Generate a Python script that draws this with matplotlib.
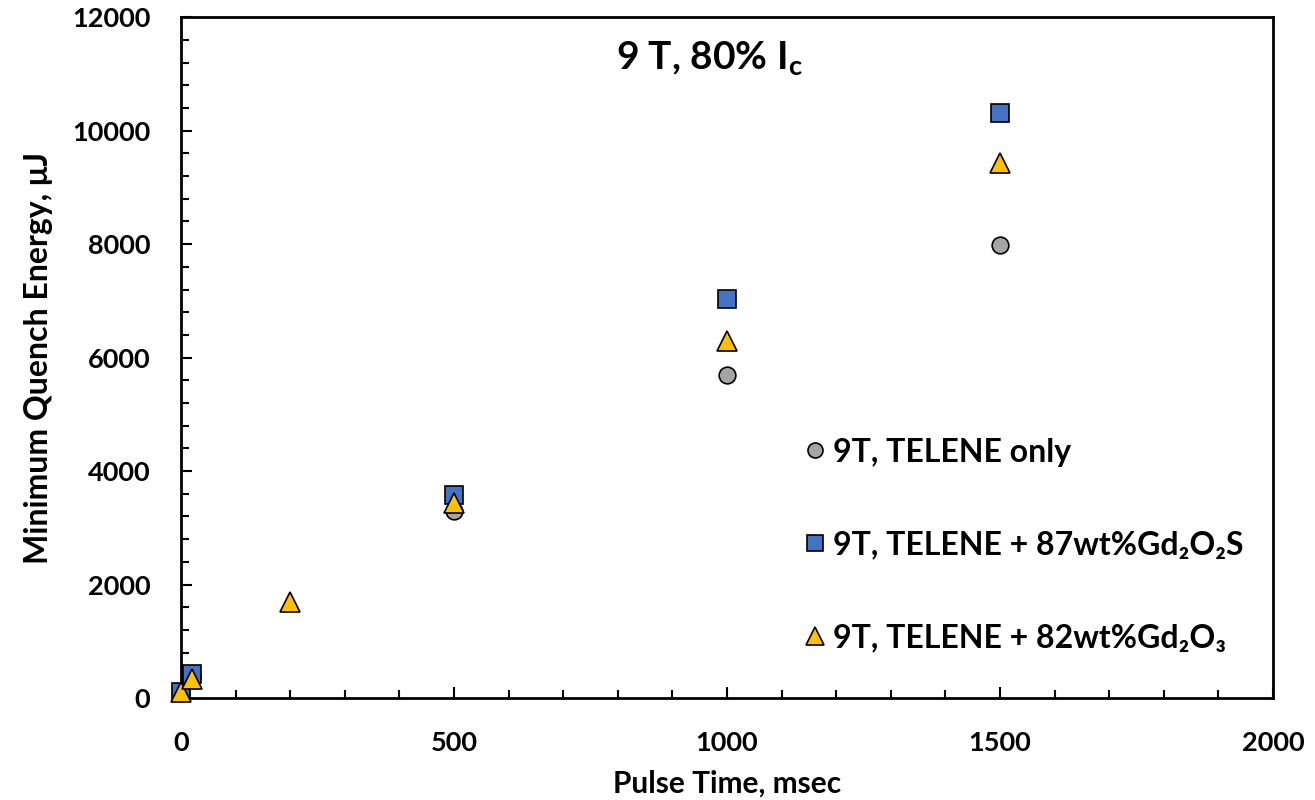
import matplotlib
matplotlib.use("Agg")
import matplotlib.pyplot as plt
from matplotlib.ticker import MultipleLocator

plt.rcParams['font.family'] = ['Lato', 'DejaVu Sans']
plt.rcParams['font.weight'] = 'bold'
plt.rcParams['mathtext.fontset'] = 'custom'
plt.rcParams['mathtext.rm'] = 'Lato:bold'
plt.rcParams['mathtext.it'] = 'Lato:bold'
plt.rcParams['mathtext.bf'] = 'Lato:bold'

# data (pulse time in msec, MQE in uJ)
t_telene = [0, 20, 500, 1000, 1500]
e_telene = [90, 380, 3300, 5700, 7980]

t_gos = [0, 20, 500, 1000, 1500]
e_gos = [100, 420, 3580, 7030, 10320]

t_gdo = [0, 20, 200, 500, 1000, 1500]
e_gdo = [100, 330, 1690, 3440, 6290, 9430]

labels = ["9T, TELENE only",
          "9T, TELENE + 87wt%Gd\u2082O\u2082S",
          "9T, TELENE + 82wt%Gd\u2082O\u2083"]

fig = plt.figure(figsize=(13.15, 8), dpi=100)
ax = fig.add_axes([0.1376, 0.1275, 0.8304, 0.851])

ax.plot(t_telene, e_telene, 'o', ms=12, mfc='#A5A5A5', mec='black', mew=1.2,
        label=labels[0], zorder=3, clip_on=False)
ax.plot(t_gos, e_gos, 's', ms=13, mfc='#4472C4', mec='black', mew=1.2,
        label=labels[1], zorder=4, clip_on=False)
ax.plot(t_gdo, e_gdo, '^', ms=14, mfc='#FFC000', mec='black', mew=1.2,
        label=labels[2], zorder=5, clip_on=False)

ax.set_xlim(0, 2000)
ax.set_ylim(0, 12000)
ax.xaxis.set_major_locator(MultipleLocator(500))
ax.xaxis.set_minor_locator(MultipleLocator(100))
ax.yaxis.set_major_locator(MultipleLocator(2000))
ax.yaxis.set_minor_locator(MultipleLocator(400))

ax.tick_params(which='both', direction='in', width=1.5, labelsize=19.5)
ax.tick_params(which='major', length=8)
ax.tick_params(which='minor', length=6)
ax.tick_params(axis='x', which='major', pad=24)
ax.tick_params(axis='y', which='major', pad=22)
for lab in ax.get_xticklabels() + ax.get_yticklabels():
    lab.set_fontweight('bold')

for s in ax.spines.values():
    s.set_linewidth(2)

ax.set_xlabel("Pulse Time, msec", fontsize=21.5, fontweight='bold', labelpad=10)
ax.set_ylabel("Minimum Quench Energy, \u03bcJ", fontsize=23, fontweight='bold', labelpad=14)

ax.text(0.484, 0.94, r"9 T, 80% I$_\mathregular{c}$", transform=ax.transAxes,
        ha='center', va='center', fontsize=28, fontweight='bold')

leg = ax.legend(loc='center left', bbox_to_anchor=(0.571, 0.2247), frameon=False,
                fontsize=23, labelspacing=2.0, handletextpad=0.25, markerscale=0.9,
                handlelength=0.65, borderpad=0, borderaxespad=0)
for txt in leg.get_texts():
    txt.set_fontweight('bold')

fig.savefig("out.png", dpi=100)
